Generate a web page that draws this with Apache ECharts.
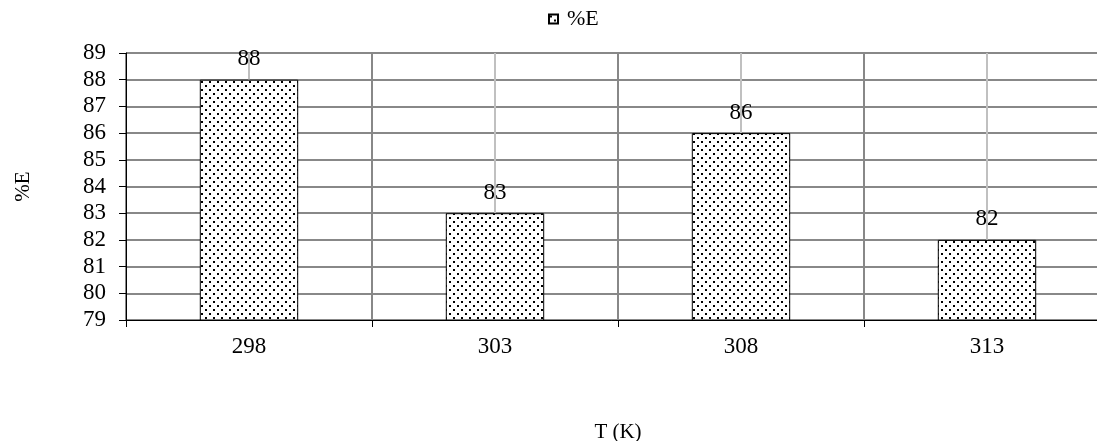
<!DOCTYPE html>
<html>
<head>
<meta charset="utf-8">
<script src="https://cdn.jsdelivr.net/npm/echarts@6/dist/echarts.min.js"></script>
<style>
  html, body { margin: 0; padding: 0; background: #fff; }
  #chart { width: 1097px; height: 441px; }
</style>
</head>
<body>
<div id="chart"></div>
<script>
// Extraction efficiency by temperature
const temperatures = ['298', '303', '308', '313'];
const efficiency = [88, 83, 86, 82];
const seriesName = '%E';
const xAxisTitle = 'T (K)';
const yAxisTitle = '%E';

// Stippled fill: white tile with staggered black dots
function makeDotPattern() {
  const c = document.createElement('canvas');
  c.width = 8; c.height = 8;
  const ctx = c.getContext('2d');
  ctx.fillStyle = '#ffffff';
  ctx.fillRect(0, 0, 8, 8);
  ctx.fillStyle = '#000000';
  const dots = [[1, 1], [5, 5]];
  dots.forEach(([x, y]) => ctx.fillRect(x, y, 2, 2));
  return c;
}
const dotFill = { image: makeDotPattern(), repeat: 'repeat' };

const font = '"Liberation Serif", "Times New Roman", serif';
const chart = echarts.init(document.getElementById('chart'));

chart.setOption({
  animation: false,
  textStyle: { fontFamily: font, color: '#000' },
  legend: {
    top: 3,
    left: 543,
    itemWidth: 9,
    itemHeight: 9,
    itemGap: 5,
    textStyle: { fontFamily: font, fontSize: 22, color: '#000', padding: [0, 0, 0, 4] },
    data: [{ name: seriesName, icon: 'rect' }]
  },
  grid: {
    left: 126,
    top: 53,
    bottom: 121,
    width: 984,
    outerBoundsMode: 'none',
    containLabel: false,
    show: true,
    borderColor: '#000',
    borderWidth: 1,
    backgroundColor: 'transparent'
  },
  xAxis: {
    type: 'category',
    data: temperatures,
    name: xAxisTitle,
    nameLocation: 'middle',
    nameGap: 102,
    nameTextStyle: { fontFamily: font, fontSize: 21, color: '#000' },
    axisLine: { lineStyle: { color: '#000', width: 1 } },
    axisTick: { show: true, length: 7, lineStyle: { color: '#000' } },
    axisLabel: { fontFamily: font, fontSize: 23, color: '#000', margin: 15 },
    splitLine: { show: true, lineStyle: { color: '#888', width: 2 } }
  },
  yAxis: {
    type: 'value',
    min: 79,
    max: 89,
    interval: 1,
    name: yAxisTitle,
    nameLocation: 'middle',
    nameRotate: 90,
    nameGap: 92,
    nameTextStyle: { fontFamily: font, fontSize: 21, color: '#000' },
    axisLine: { show: true, lineStyle: { color: '#000', width: 1 } },
    axisTick: { show: true, length: 7, lineStyle: { color: '#000' } },
    axisLabel: { fontFamily: font, fontSize: 23, color: '#000', margin: 20 },
    splitLine: { show: true, lineStyle: { color: '#888', width: 2 } }
  },
  series: [
    {
      // light centre guides behind the bars
      type: 'line',
      data: [],
      silent: true,
      z: 1,
      markLine: {
        silent: true,
        z: 1,
        symbol: 'none',
        label: { show: false },
        lineStyle: { color: '#c0c0c0', width: 2, type: 'solid' },
        data: temperatures.map(t => ({ xAxis: t }))
      }
    },
    {
      name: seriesName,
      type: 'bar',
      z: 3,
      data: efficiency,
      barWidth: '40%',
      itemStyle: { color: dotFill, borderColor: '#000', borderWidth: 1 },
      label: {
        show: true,
        position: 'top',
        distance: 9,
        fontFamily: font,
        fontSize: 23,
        color: '#000'
      }
    }
  ]
});
</script>
</body>
</html>
